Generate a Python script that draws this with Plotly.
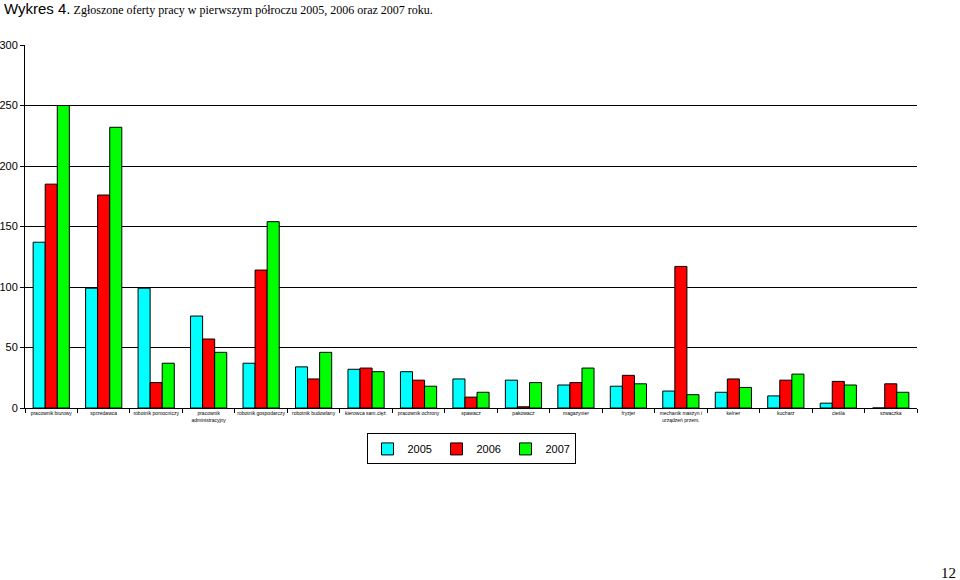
import plotly.graph_objects as go

categories = [
    "pracownik biurowy", "sprzedawca", "robotnik pomocniczy",
    "pracownik<br>administracyjny", "robotnik gospodarczy", "robotnik budowlany",
    "kierowca sam.cięż.", "pracownik ochrony", "spawacz", "pakowacz",
    "magazynier", "fryzjer", "mechanik maszyn i<br>urządzeń przem.", "kelner",
    "kucharz", "cieśla", "szwaczka",
]
v2005 = [137, 99, 99, 76, 37, 34, 32, 30, 24, 23, 19, 18, 14, 13, 10, 4, 0]
v2006 = [185, 176, 21, 57, 114, 24, 33, 23, 9, 1, 21, 27, 117, 24, 23, 22, 20]
v2007 = [250, 232, 37, 46, 154, 46, 30, 18, 13, 21, 33, 20, 11, 17, 28, 19, 13]
series = [("2005", v2005, "#00FFFF"), ("2006", v2006, "#FF0000"), ("2007", v2007, "#00FF00")]
y_ticks = [0, 50, 100, 150, 200, 250, 300]

fig = go.Figure()
for name, vals, col in series:
    fig.add_trace(go.Bar(x=categories, y=vals, name=name,
                         marker=dict(color=col, line=dict(color="black", width=1))))

fig.update_layout(
    width=960, height=580,
    margin=dict(l=25, r=43, t=45, b=172),
    paper_bgcolor="white", plot_bgcolor="white",
    barmode="group", bargap=0.31, bargroupgap=0,
    showlegend=True,
    legend=dict(orientation="h", x=0.5, xanchor="center", y=-0.07, yanchor="top",
                bordercolor="black", borderwidth=1, bgcolor="white",
                font=dict(family="Arial, Liberation Sans", size=11, color="black"),
                itemwidth=30, tracegroupgap=0,
                entrywidth=24, entrywidthmode="pixels"),
    font=dict(family="Arial, Liberation Sans", color="black"),
)
fig.update_xaxes(
    automargin=False,
    showline=True, linecolor="black", linewidth=1,
    ticks="outside", tickson="boundaries", ticklen=4, tickcolor="black",
    tickfont=dict(size=5, family="Arial, Liberation Sans"), tickangle=0,
    showgrid=False,
)
fig.update_yaxes(
    automargin=False,
    range=[0, 300], tickvals=y_ticks,
    showline=True, linecolor="black", linewidth=1,
    ticks="outside", ticklen=4, tickcolor="black",
    tickfont=dict(size=11, family="Arial, Liberation Sans"),
    showgrid=True, gridcolor="black", gridwidth=1, zeroline=False,
)

fig.add_annotation(
    xref="paper", yref="paper", x=-25/892, y=1 + 45/363, xanchor="left", yanchor="top",
    xshift=2, yshift=2,
    showarrow=False,
    text="<span style='font-family:Arial, Liberation Sans; font-size:15px'>Wykres 4.</span>"
         "<span style='font-family:Times New Roman, Liberation Serif; font-size:12px'> Zgłoszone oferty pracy w pierwszym półroczu 2005, 2006 oraz 2007 roku.</span>",
)
fig.add_annotation(
    xref="paper", yref="paper", x=1 + 41/892, y=-(573 - 408) / 363, xanchor="right", yanchor="middle",
    showarrow=False,
    text="12", font=dict(family="Times New Roman, Liberation Serif", size=15, color="black"),
)

fig.write_html("out.html", config={"displayModeBar": False},
               post_script="document.body.style.margin='0';")
